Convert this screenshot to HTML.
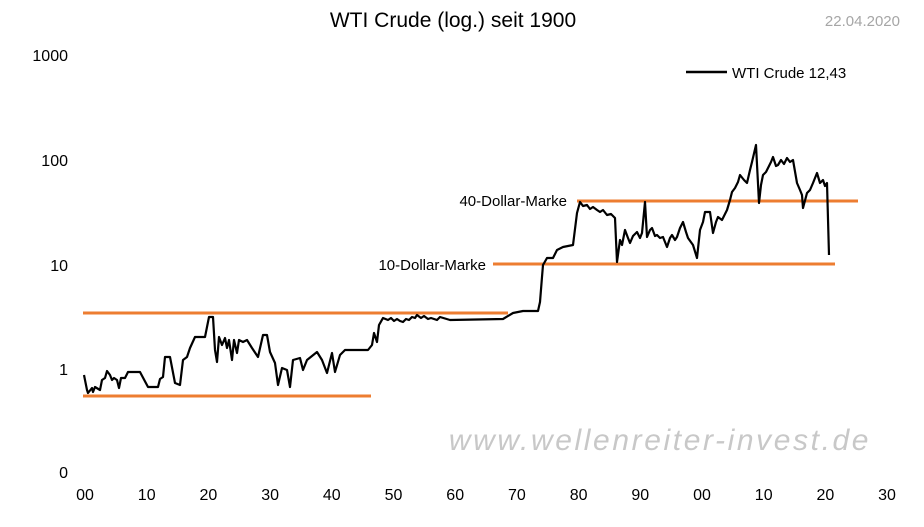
<!DOCTYPE html>
<html><head><meta charset="utf-8"><style>
body{margin:0;background:#fff;}
svg{display:block;font-family:"Liberation Sans",sans-serif;}
</style></head><body>
<svg width="924" height="527" viewBox="0 0 924 527">
<rect width="924" height="527" fill="#fff"/>
<text x="453" y="27" font-size="21" text-anchor="middle" fill="#000">WTI Crude (log.) seit 1900</text>
<text x="900" y="26" font-size="15" text-anchor="end" fill="#a6a6a6">22.04.2020</text>
<g font-size="16" fill="#000" text-anchor="end">
<text x="68" y="61">1000</text><text x="68" y="166">100</text><text x="68" y="271">10</text><text x="68" y="375">1</text><text x="68" y="478">0</text>
</g>
<g font-size="16" fill="#000" text-anchor="middle">
<text x="85" y="500">00</text><text x="146.7" y="500">10</text><text x="208.4" y="500">20</text><text x="270.1" y="500">30</text><text x="331.8" y="500">40</text><text x="393.5" y="500">50</text><text x="455.2" y="500">60</text><text x="516.9" y="500">70</text><text x="578.6" y="500">80</text><text x="640.3" y="500">90</text><text x="702" y="500">00</text><text x="763.7" y="500">10</text><text x="825.4" y="500">20</text><text x="887" y="500">30</text>
</g>
<text x="660" y="450" font-size="30" font-style="italic" fill="#c8c8c8" text-anchor="middle" letter-spacing="2.6">www.wellenreiter-invest.de</text>
<line x1="686" y1="72" x2="727" y2="72" stroke="#000" stroke-width="2.5"/>
<text x="732" y="78" font-size="15" fill="#000">WTI Crude 12,43</text>
<g stroke="#ed7d31" stroke-width="3">
<line x1="83" y1="313" x2="508" y2="313"/>
<line x1="83" y1="396" x2="371" y2="396"/>
<line x1="493" y1="264" x2="835" y2="264"/>
<line x1="577" y1="201" x2="858" y2="201"/>
</g>
<text x="567" y="206" font-size="15" text-anchor="end" fill="#000">40-Dollar-Marke</text>
<text x="486" y="270" font-size="15" text-anchor="end" fill="#000">10-Dollar-Marke</text>
<polyline fill="none" stroke="#000" stroke-width="2.2" stroke-linejoin="round" points="84,375 87,390 88,393 92,388 93,392 95,387 100,390 102,380 105,378 107,371 110,375 112,380 114,378 117,380 119,388 121,378 125,378 128,372 140,372 148,387 158,387 160,379 163,377 165,357 170,357 175,383 180,385 183,360 187,357 190,348 195,337 205,337 209,317 213,317 215,350 217,362 219,337 222,345 225,338 227,348 229,340 232,360 234,340 237,353 239,340 243,342 247,340 252,348 258,357 263,335 267,335 270,352 275,363 278,385 282,368 287,370 290,387 293,360 300,358 303,370 307,360 317,352 322,360 327,373 332,353 335,372 340,355 345,350 368,350 372,345 374,333 377,342 379,325 383,318 388,320 391,318 394,321 397,319 400,321 403,322 406,319 409,320 412,317 415,318 417,315 421,318 424,316 428,319 431,318 437,320 440,317 450,320 503,319 513,313 523,311 538,311 540,302 542,277 543,265 547,258 553,258 557,250 563,247 573,245 577,213 580,202 583,206 587,205 590,209 593,207 597,210 600,212 603,210 607,215 611,214 615,218 617,262 620,240 622,245 625,230 628,238 630,243 633,236 637,232 640,238 642,233 645,202 647,237 650,230 652,228 655,236 657,235 660,238 663,237 667,247 670,238 672,235 675,240 677,237 680,228 683,222 686,232 688,238 693,245 697,258 700,230 703,222 705,212 710,212 713,233 716,222 718,217 722,220 725,214 727,210 730,200 732,192 735,188 738,182 740,175 744,180 747,183 750,170 752,162 756,145 759,203 761,185 763,175 766,172 768,168 771,162 773,157 776,166 778,165 781,160 784,164 787,158 790,162 793,160 797,183 800,190 802,195 803,208 807,193 810,190 813,183 817,173 820,183 823,180 825,186 827,183 829,255"/>
</svg>
</body></html>
